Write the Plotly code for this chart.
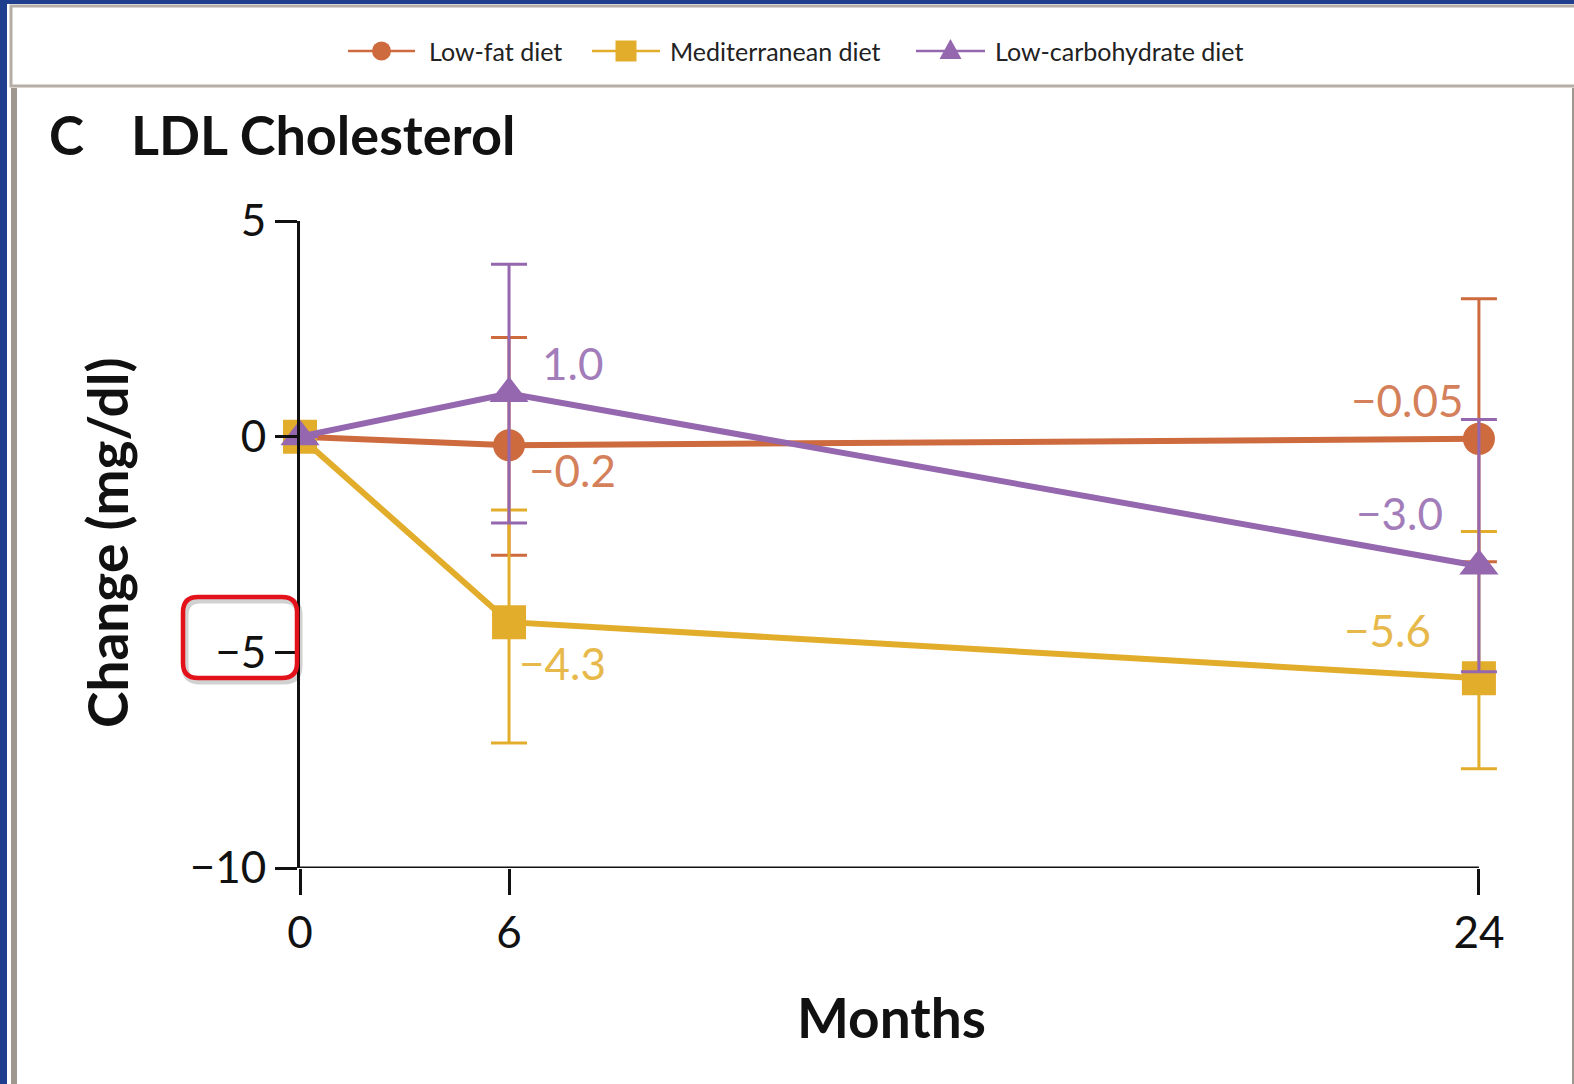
import plotly.graph_objects as go

# ---- data -------------------------------------------------------------
months = [0, 6, 24]
# horizontal placement of each visit on the (non-proportional) time axis
visit_pos = [0.0, 1.0, 5.64]

diets = ["Low-fat diet", "Mediterranean diet", "Low-carbohydrate diet"]

low_fat = [0.0, -0.2, -0.05]
low_fat_lo = [0.0, -2.75, -2.9]
low_fat_hi = [0.0, 2.3, 3.2]

mediterranean = [0.0, -4.3, -5.6]
mediterranean_lo = [0.0, -7.1, -7.7]
mediterranean_hi = [0.0, -1.7, -2.2]

low_carb = [0.0, 1.0, -3.0]
low_carb_lo = [0.0, -2.0, -5.45]
low_carb_hi = [0.0, 4.0, 0.4]

value_labels = {
    "Low-fat diet": [None, "−0.2", "−0.05"],
    "Mediterranean diet": [None, "−4.3", "−5.6"],
    "Low-carbohydrate diet": [None, "1.0", "−3.0"],
}

y_ticks = [-10, -5, 0, 5]

# ---- styling ----------------------------------------------------------
W, H = 1574, 1084
X_PAD = 0.12                      # room right of the last visit so its error bars are not clipped
L, T, B = 300, 221, 216
AXIS_END = 1479                   # pixel where the last visit sits
R = W - AXIS_END - round(X_PAD * (AXIS_END - L) / visit_pos[-1])
PW, PH = W - L - R, H - T - B

ORANGE = "#CD6A3E"
YELLOW = "#E3AD2C"
PURPLE = "#9467AF"
INK = "#111111"
FONT = "Lato"


def px(x):
    return (x - L) / PW


def py(y):
    return (H - B - y) / PH


series = [
    (diets[0], low_fat, low_fat_lo, low_fat_hi, ORANGE, "circle", 32),
    (diets[1], mediterranean, mediterranean_lo, mediterranean_hi, YELLOW, "square", 34),
    (diets[2], low_carb, low_carb_lo, low_carb_hi, PURPLE, "triangle-up", 34),
]

# label offsets (pixels) relative to each point, and text anchor
label_style = {
    "Low-fat diet": [None, (18, -25, "left"), (-14, 39, "right")],
    "Mediterranean diet": [None, (8, -41, "left"), (-46, 48, "right")],
    "Low-carbohydrate diet": [None, (31, 31, "left"), (-34, 53, "right")],
}

fig = go.Figure()
annotations = []
shapes = []

for name, vals, lo, hi, color, symbol, size in series:
    fig.add_trace(go.Scatter(
        x=visit_pos, y=vals, name=name, mode="lines+markers",
        line=dict(color=color, width=6),
        marker=dict(color=color, symbol=symbol, size=size, line=dict(width=0)),
        error_y=dict(
            type="data", symmetric=False,
            array=[h - v for h, v in zip(hi, vals)],
            arrayminus=[v - l for l, v in zip(lo, vals)],
            color=color, thickness=3, width=18,
        ),
        cliponaxis=False, showlegend=False,
    ))
    for i, txt in enumerate(value_labels[name]):
        if txt is None:
            continue
        dx, dy, anchor = label_style[name][i]
        annotations.append(dict(
            x=visit_pos[i], y=vals[i], xref="x", yref="y", text=txt,
            showarrow=False, xanchor=anchor, yanchor="middle",
            xshift=dx, yshift=dy,
            font=dict(family=FONT, size=44, color=color),
            opacity=0.85,
        ))

# titles
annotations += [
    dict(x=px(47), y=py(135), xref="paper", yref="paper", text="C",
         showarrow=False, xanchor="left", yanchor="middle",
         font=dict(family=FONT, size=53, color=INK, weight="bold")),
    dict(x=px(129), y=py(135), xref="paper", yref="paper", text="LDL Cholesterol",
         showarrow=False, xanchor="left", yanchor="middle",
         font=dict(family=FONT, size=54, color=INK, weight="bold")),
    dict(x=px(107), y=py(543), xref="paper", yref="paper", text="Change (mg/dl)",
         showarrow=False, xanchor="center", yanchor="middle", textangle=-90,
         font=dict(family=FONT, size=55, color=INK, weight="bold")),
    dict(x=px(891), y=py(1017), xref="paper", yref="paper", text="Months",
         showarrow=False, xanchor="center", yanchor="middle",
         font=dict(family=FONT, size=55, color=INK, weight="bold")),
]

# ---- legend strip (line + marker + label per diet) --------------------
LEG_Y = 51
legend_items = [
    (diets[0], ORANGE, "circle", 348, 415, 427),
    (diets[1], YELLOW, "square", 592, 660, 668),
    (diets[2], PURPLE, "triangle", 916, 985, 993),
]
for name, color, sym, x0, x1, xt in legend_items:
    shapes.append(dict(type="line", xref="paper", yref="paper",
                       x0=px(x0), x1=px(x1), y0=py(LEG_Y), y1=py(LEG_Y),
                       line=dict(color=color, width=2.5)))
    cx = (x0 + x1) / 2
    if sym == "circle":
        r = 9.5
        shapes.append(dict(type="circle", xref="paper", yref="paper",
                           x0=px(cx - r), x1=px(cx + r), y0=py(LEG_Y + r), y1=py(LEG_Y - r),
                           fillcolor=color, line=dict(width=0)))
    elif sym == "square":
        r = 10.5
        shapes.append(dict(type="rect", xref="paper", yref="paper",
                           x0=px(cx - r), x1=px(cx + r), y0=py(LEG_Y + r), y1=py(LEG_Y - r),
                           fillcolor=color, line=dict(width=0)))
    else:
        r = 11
        path = (f"M {px(cx - r)} {py(LEG_Y + 8)} L {px(cx + r)} {py(LEG_Y + 8)} "
                f"L {px(cx)} {py(LEG_Y - 12)} Z")
        shapes.append(dict(type="path", xref="paper", yref="paper", path=path,
                           fillcolor=color, line=dict(width=0)))
    annotations.append(dict(x=px(xt), y=py(LEG_Y), xref="paper", yref="paper", text=name,
                            showarrow=False, xanchor="left", yanchor="middle",
                            font=dict(family=FONT, size=25, color="#222")))


def rounded_rect(x0, y0, x1, y1, r):
    pts = [
        f"M {px(x0 + r)} {py(y0)}",
        f"L {px(x1 - r)} {py(y0)}",
        f"Q {px(x1)} {py(y0)} {px(x1)} {py(y0 + r)}",
        f"L {px(x1)} {py(y1 - r)}",
        f"Q {px(x1)} {py(y1)} {px(x1 - r)} {py(y1)}",
        f"L {px(x0 + r)} {py(y1)}",
        f"Q {px(x0)} {py(y1)} {px(x0)} {py(y1 - r)}",
        f"L {px(x0)} {py(y0 + r)}",
        f"Q {px(x0)} {py(y0)} {px(x0 + r)} {py(y0)}",
        "Z",
    ]
    return " ".join(pts)


BLUE = "#1F3F8E"
GRAY = "#A0978F"
shapes = [
    # window frame
    dict(type="rect", xref="paper", yref="paper", x0=px(0), x1=px(7), y0=py(H), y1=py(0),
         fillcolor=BLUE, line=dict(width=0), layer="below"),
    dict(type="rect", xref="paper", yref="paper", x0=px(0), x1=px(W), y0=py(4), y1=py(0),
         fillcolor=BLUE, line=dict(width=0), layer="below"),
    # legend panel
    dict(type="rect", xref="paper", yref="paper", x0=px(11), x1=px(W + 5), y0=py(86), y1=py(6),
         fillcolor="white", line=dict(color="#B5ADA6", width=3), layer="below"),
    # chart panel edges
    dict(type="rect", xref="paper", yref="paper", x0=px(11), x1=px(17), y0=py(H), y1=py(88),
         fillcolor=GRAY, line=dict(width=0), layer="below"),
    dict(type="rect", xref="paper", yref="paper", x0=px(1572), x1=px(1574), y0=py(H), y1=py(88),
         fillcolor=GRAY, line=dict(width=0), layer="below"),
    # x axis baseline, ending at the last visit
    dict(type="line", xref="x", yref="y", x0=visit_pos[0], x1=visit_pos[-1],
         y0=y_ticks[0], y1=y_ticks[0], line=dict(color=INK, width=3), layer="below"),
    # highlight box around the −5 tick label
    dict(type="path", xref="paper", yref="paper", path=rounded_rect(185, 600, 299, 681, 15),
         line=dict(color="rgba(0,0,0,0.18)", width=7), layer="above"),
    dict(type="path", xref="paper", yref="paper", path=rounded_rect(183, 597, 297, 678, 15),
         line=dict(color="#E3121A", width=4.5), layer="above"),
] + shapes

fig.update_layout(
    width=W, height=H,
    margin=dict(l=L, r=R, t=T, b=B, autoexpand=False),
    paper_bgcolor="white", plot_bgcolor="white",
    showlegend=False,
    xaxis=dict(
        range=[visit_pos[0], visit_pos[-1] + X_PAD],
        tickmode="array", tickvals=visit_pos, ticktext=[str(m) for m in months],
        showline=False,
        ticks="outside", ticklen=26, tickwidth=3, tickcolor=INK,
        showgrid=False, zeroline=False,
        tickfont=dict(family=FONT, size=44, color=INK),
    ),
    yaxis=dict(
        range=[y_ticks[0], y_ticks[-1]],
        tickmode="array", tickvals=y_ticks,
        showline=True, linecolor=INK, linewidth=3,
        ticks="outside", ticklen=22, tickwidth=3, tickcolor=INK,
        showgrid=False, zeroline=False,
        tickfont=dict(family=FONT, size=44, color=INK),
    ),
    annotations=annotations,
    shapes=shapes,
)

fig.write_html("out.html")
